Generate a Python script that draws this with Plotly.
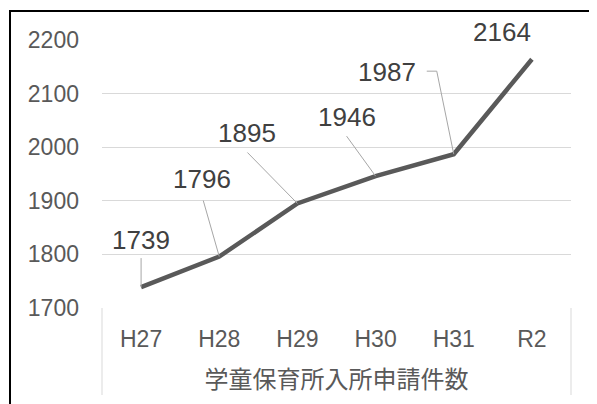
import plotly.graph_objects as go

categories = ["H27", "H28", "H29", "H30", "H31", "R2"]
values = [1739, 1796, 1895, 1946, 1987, 2164]
y_ticks = [1700, 1800, 1900, 2000, 2100, 2200]
axis_title = "学童保育所入所申請件数"

# label offsets (pixels) relative to each point: (dx, dy up)
label_offsets = [(0, 47), (-17, 78), (-50, 70), (-29, 59), (-67, 82), (-30, 27)]
# leader paths (pixel offsets from point), None = no leader
leaders = [
    [(0, 29), (0, 0)],
    [(-16, 56), (0, 0)],
    [(-50, 51), (0, 0)],
    [(-29, 40), (0, 0)],
    [(-27, 83), (-17, 83), (0, 0)],
    None,
]

xs = list(range(len(categories)))
FONT = "Liberation Sans, Arial, sans-serif"
CJK = "Noto Sans CJK JP, sans-serif"

# page body has an 8px margin: figure origin sits at (8, 8) of the window
OFF = 8
W, H = 597 - OFF, 404 - OFF
L, R, T, B = 102 - OFF, 597 - 571, 40 - OFF, 404 - 308

fig = go.Figure()
fig.add_trace(go.Scatter(
    x=xs, y=values, mode="lines",
    line=dict(color="#595959", width=4.5),
    hoverinfo="skip", showlegend=False,
))

annotations = []
shapes = []
for x, v, (dx, dy), lead in zip(xs, values, label_offsets, leaders):
    annotations.append(dict(
        x=x, y=v, xref="x", yref="y", text=str(v), showarrow=False,
        xshift=dx, yshift=dy, font=dict(family=FONT, size=26, color="#404040"),
    ))
    if lead:
        path = "M " + " L ".join(f"{px},{py}" for px, py in lead)
        shapes.append(dict(
            type="path", path=path, xsizemode="pixel", ysizemode="pixel",
            xanchor=x, yanchor=v, xref="x", yref="y",
            line=dict(color="#a6a6a6", width=1),
        ))

plot_w = W - L - R
plot_h = H - T - B
def px_x(p):  # window pixel -> paper x
    return (p - OFF - L) / plot_w
def px_y(p):  # window pixel -> paper y
    return (H - B - (p - OFF)) / plot_h

# category box side lines
for xp in (0, 1):
    shapes.append(dict(type="line", xref="paper", yref="paper",
                       x0=xp, x1=xp, y0=0, y1=px_y(395),
                       line=dict(color="#d9d9d9", width=1)))
# outer black frame (left and top)
shapes.append(dict(type="path", xref="paper", yref="paper",
                   path=f"M {px_x(10)},{px_y(420)} L {px_x(10)},{px_y(11)} L {px_x(610)},{px_y(11)}",
                   line=dict(color="#000000", width=2)))

fig.update_layout(
    width=W, height=H,
    margin=dict(l=L, r=R, t=T, b=B),
    paper_bgcolor="white", plot_bgcolor="white",
    xaxis=dict(
        range=[-0.5, 5.5], tickmode="array", tickvals=xs, ticktext=categories,
        showgrid=False, zeroline=False, showline=False, ticks="",
        tickfont=dict(family=FONT, size=23, color="#595959"),
        ticklabelstandoff=15,
        title=dict(text=axis_title, standoff=20,
                   font=dict(family=CJK, size=24, color="#595959")),
    ),
    yaxis=dict(
        range=[1700, 2200], tickvals=y_ticks, showgrid=True, gridcolor="#d9d9d9",
        gridwidth=1, zeroline=False, showline=False, ticks="",
        tickfont=dict(family=FONT, size=23, color="#595959"),
        ticklabelstandoff=22,
    ),
    annotations=annotations,
    shapes=shapes,
)

fig.write_html("out.html")
